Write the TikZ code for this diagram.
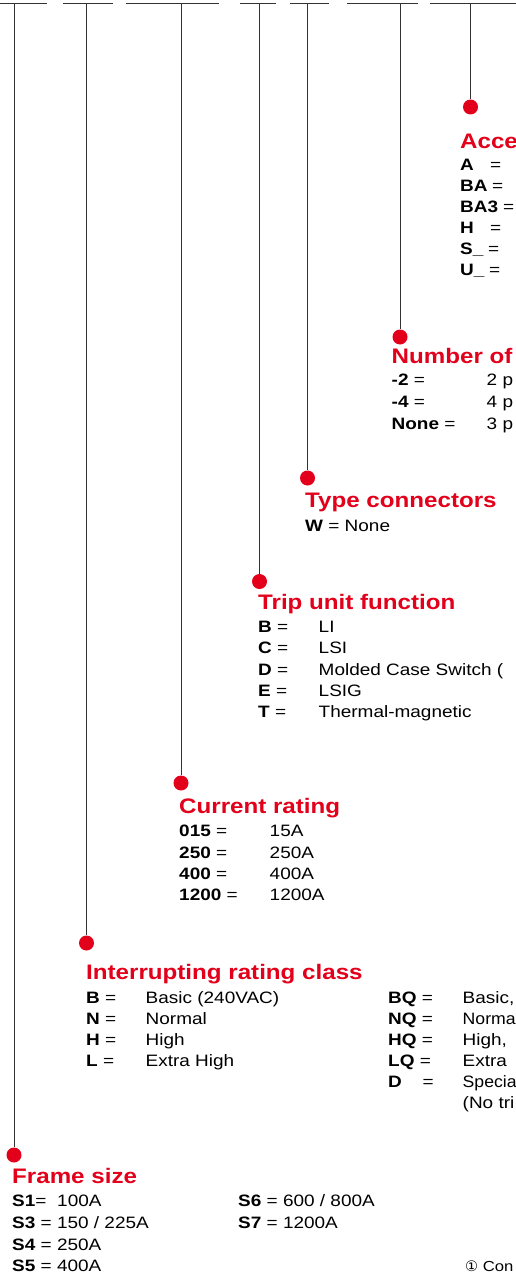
\documentclass[tikz,border=0pt]{standalone}
\usepackage{fontspec}
\setmainfont[FakeStretch=1.15]{Liberation Sans}
\newfontfamily\symfont{DejaVu Sans}
\definecolor{catred}{RGB}{226,0,26}
\tikzset{
  bar/.style={black!80, line width=1pt},
  lead/.style={black!80, line width=1pt},
  dot/.style={circle, fill=catred, inner sep=0pt, minimum size=15pt},
  head/.style={anchor=base west, inner sep=0pt, text=catred,
    font=\fontsize{21}{24}\selectfont\bfseries},
  item/.style={anchor=base west, inner sep=0pt,
    font=\fontsize{16.5}{20}\selectfont},
}
\begin{document}
\begin{tikzpicture}[x=1pt, y=-1pt]
    \useasboundingbox (0,0) rectangle (516,1279);
    \clip (0,0) rectangle (516,1279);
    % top bars
    \draw [bar] (0,4) -- (47,4);
    \draw [bar] (63,4) -- (113,4);
    \draw [bar] (126,4) -- (219,4);
    \draw [bar] (240,4) -- (276,4);
    \draw [bar] (290,4) -- (329,4);
    \draw [bar] (347,3.3) -- (418,3.3);
    \draw [bar] (430,4) -- (516,4);
    \coordinate (frametop) at (14,4);
    \coordinate (classtop) at (86.5,4);
    \coordinate (ratetop) at (181,4);
    \coordinate (triptop) at (259.5,4);
    \coordinate (typetop) at (307.5,4);
    \coordinate (poletop) at (400,3.3);
    \coordinate (acctop) at (470.5,4);
    % dots
    \node [dot] (frame) at (14,1155) {};
    \node [dot] (class) at (86.5,943) {};
    \node [dot] (rate) at (181,783) {};
    \node [dot] (trip) at (259.5,581.5) {};
    \node [dot] (type) at (307.5,478) {};
    \node [dot] (pole) at (400,337) {};
    \node [dot] (acc) at (470.5,107) {};
    \draw [lead] (frametop) -- (frame);
    \draw [lead] (classtop) -- (class);
    \draw [lead] (ratetop) -- (rate);
    \draw [lead] (triptop) -- (trip);
    \draw [lead] (typetop) -- (type);
    \draw [lead] (poletop) -- (pole);
    \draw [lead] (acctop) -- (acc);
    % accessories
    \node [head] (acchead) at (460,148) {Acce};
    \node [item] (acca) at (460,170) {\textbf{A}};
    \node [item] (accaeq) at (490,170) {=};
    \node [item] (accba) at (460,191) {\textbf{BA}};
    \node [item] (accbaeq) at (492,191) {=};
    \node [item] (accbat) at (460,212) {\textbf{BA3}};
    \node [item] (accbateq) at (503,212) {=};
    \node [item] (acch) at (460,233) {\textbf{H}};
    \node [item] (accheq) at (490,233) {=};
    \node [item] (accs) at (460,254) {\textbf{S\_}};
    \node [item] (accseq) at (488,254) {=};
    \node [item] (accu) at (460,275) {\textbf{U\_}};
    \node [item] (accueq) at (489,275) {=};
    % number of poles
    \node [head] (polehead) at (391.5,363) {Number of};
    \node [item] (pole2) at (391.5,385) {\textbf{-2} =};
    \node [item] (pole2v) at (486.5,385) {2 p};
    \node [item] (pole4) at (391.5,407) {\textbf{-4} =};
    \node [item] (pole4v) at (486.5,407) {4 p};
    \node [item] (polen) at (391.5,429) {\textbf{None} =};
    \node [item] (polenv) at (486.5,429) {3 p};
    % type connectors
    \node [head] (typehead) at (305,507.5) {Type connectors};
    \node [item] (typew) at (305,531.5) {\textbf{W} = None};
    % trip unit
    \node [head] (triphead) at (258,609) {Trip unit function};
    \node [item] (tripb) at (258,632) {\textbf{B} =};
    \node [item] (tripbv) at (318.5,632) {LI};
    \node [item] (tripc) at (258,653) {\textbf{C} =};
    \node [item] (tripcv) at (318.5,653) {LSI};
    \node [item] (tripd) at (258,675) {\textbf{D} =};
    \node [item] (tripdv) at (318.5,675) {Molded Case Switch (};
    \node [item] (tripe) at (258,696) {\textbf{E} =};
    \node [item] (tripev) at (318.5,696) {LSIG};
    \node [item] (tript) at (258,717) {\textbf{T} =};
    \node [item] (triptv) at (318.5,717) {Thermal-magnetic};
    % current rating
    \node [head] (ratehead) at (179,813) {Current rating};
    \node [item] (rate1) at (179,836) {\textbf{015} =};
    \node [item] (rate1v) at (269.5,836) {15A};
    \node [item] (rate2) at (179,858) {\textbf{250} =};
    \node [item] (rate2v) at (269.5,858) {250A};
    \node [item] (rate3) at (179,879) {\textbf{400} =};
    \node [item] (rate3v) at (269.5,879) {400A};
    \node [item] (rate4) at (179,900) {\textbf{1200} =};
    \node [item] (rate4v) at (269.5,900) {1200A};
    % interrupting rating class
    \node [head] (classhead) at (86,979) {Interrupting rating class};
    \node [item] (classb) at (86,1003) {\textbf{B} =};
    \node [item] (classbv) at (145.5,1003) {Basic (240VAC)};
    \node [item] (classn) at (86,1024) {\textbf{N} =};
    \node [item] (classnv) at (145.5,1024) {Normal};
    \node [item] (classh) at (86,1045) {\textbf{H} =};
    \node [item] (classhv) at (145.5,1045) {High};
    \node [item] (classl) at (86,1066) {\textbf{L} =};
    \node [item] (classlv) at (145.5,1066) {Extra High};
    \node [item] (classbq) at (388,1003) {\textbf{BQ} =};
    \node [item] (classbqv) at (462.5,1003) {Basic,};
    \node [item] (classnq) at (388,1024) {\textbf{NQ} =};
    \node [item] (classnqv) at (462.5,1024) {\scalebox{0.93}[1]{Norma}};
    \node [item] (classhq) at (388,1045) {\textbf{HQ} =};
    \node [item] (classhqv) at (462.5,1045) {High,};
    \node [item] (classlq) at (388,1066) {\textbf{LQ} =};
    \node [item] (classlqv) at (462.5,1066) {Extra};
    \node [item] (classd) at (388,1087) {\textbf{D}};
    \node [item] (classdeq) at (422.5,1087) {=};
    \node [item] (classdv) at (462.5,1087) {\scalebox{0.93}[1]{Specia}};
    \node [item] (classdw) at (462.5,1108) {(No tri};
    % frame size
    \node [head] (framehead) at (12,1183) {Frame size};
    \node [item] (frame1) at (12,1206) {\textbf{S1}=};
    \node [item] (frame1v) at (57,1206) {100A};
    \node [item] (frame3) at (12,1228) {\textbf{S3} = 150 / 225A};
    \node [item] (frame4) at (12,1250) {\textbf{S4} = 250A};
    \node [item] (frame5) at (12,1271) {\textbf{S5} = 400A};
    \node [item] (frame6) at (238,1206) {\textbf{S6} = 600 / 800A};
    \node [item] (frame7) at (238,1228) {\textbf{S7} = 1200A};
    % note
    \node [item, font=\fontsize{14.5}{16}\selectfont] (note) at (465,1271) {{\symfont ①} Con};
\end{tikzpicture}
\end{document}
